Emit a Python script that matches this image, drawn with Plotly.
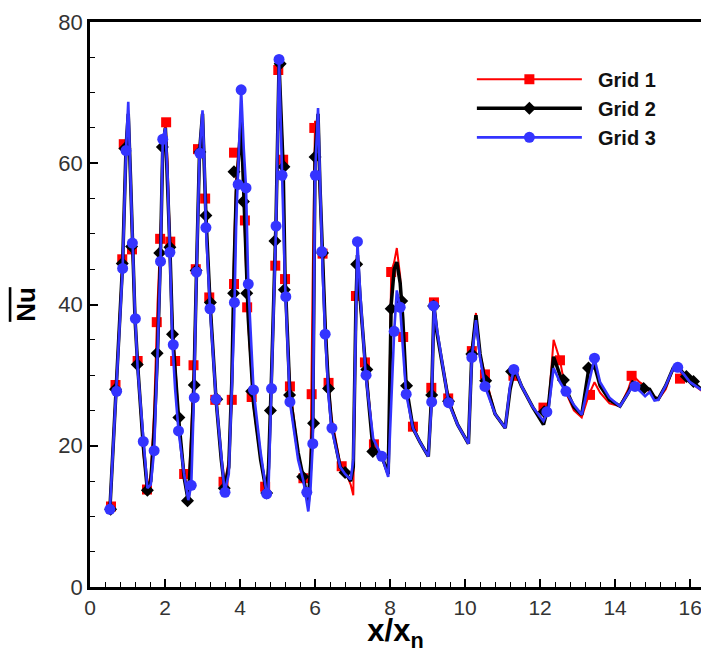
import plotly.graph_objects as go

# ---- curve data (x/x_n and Nu for each grid) ----
x_curve = [0.53, 0.70, 0.87, 0.96, 1.02, 1.08, 1.13, 1.20, 1.27, 1.42, 1.53, 1.62, 1.71, 1.80, 1.88, 1.94,
           2.01, 2.07, 2.13, 2.20, 2.27, 2.36, 2.51, 2.62, 2.70, 2.77, 2.84, 2.92, 3.00, 3.05, 3.09, 3.20,
           3.36, 3.50, 3.59, 3.70, 3.78, 3.84, 3.90, 4.03, 4.10, 4.16, 4.22, 4.36, 4.55, 4.71, 4.76, 4.84,
           4.96, 5.04, 5.10, 5.15, 5.20, 5.33, 5.55, 5.69, 5.82, 5.88, 5.94, 6.00, 6.08, 6.13, 6.20, 6.27,
           6.36, 6.44, 6.67, 6.80, 6.95, 7.02, 7.09, 7.13, 7.20, 7.35, 7.55, 7.78, 7.95, 8.03, 8.11, 8.18,
           8.27, 8.34, 8.43, 8.61, 8.80, 9.02, 9.11, 9.17, 9.25, 9.56, 9.80, 10.09, 10.18, 10.29, 10.40, 10.53,
           10.80, 11.07, 11.20, 11.32, 11.50, 11.80, 12.09, 12.22, 12.36, 12.53, 12.69, 12.90, 13.11, 13.30, 13.45, 13.60,
           13.85, 14.13, 14.35, 14.47, 14.65, 14.80, 14.92, 15.05, 15.15, 15.35, 15.55, 15.67, 15.85, 16.00, 16.30]

nu_grid1 = [11.4, 28.6, 46.4, 62.7, 67.5, 58.0, 47.8, 38.0, 32.0, 19.0, 13.8, 16.0, 25.0, 40.0, 50.0, 60.0,
            66.3, 60.0, 48.9, 37.0, 32.0, 24.0, 16.0, 13.5, 22.0, 31.4, 45.0, 62.0, 67.0, 57.0, 52.0, 41.0,
            26.5, 18.0, 14.5, 18.0, 26.5, 48.0, 58.0, 66.0, 54.0, 45.0, 37.0, 25.5, 18.0, 13.0, 16.0, 29.0,
            50.0, 73.5, 65.0, 60.5, 43.6, 28.4, 19.0, 15.4, 11.5, 18.0, 45.0, 66.0, 64.0, 55.0, 47.2, 38.0,
            28.9, 24.0, 17.5, 16.5, 14.5, 13.0, 41.2, 47.0, 40.0, 31.8, 20.2, 18.5, 15.8, 44.6, 46.0, 48.0,
            44.0, 35.5, 28.0, 22.7, 20.5, 18.5, 28.2, 40.3, 36.0, 26.7, 23.0, 20.3, 33.4, 38.8, 33.0, 30.1,
            24.5, 22.5, 28.0, 30.5, 28.5, 25.5, 23.5, 25.5, 35.0, 32.1, 27.5, 25.0, 24.0, 27.2, 29.0, 27.5,
            26.0, 25.6, 28.0, 30.0, 29.0, 28.5, 27.5, 27.0, 26.5, 28.0, 31.0, 31.2, 29.5, 29.0, 27.8]

nu_grid2 = [11.0, 28.0, 45.8, 62.1, 67.0, 58.0, 48.2, 38.0, 31.5, 20.0, 13.7, 15.0, 22.0, 33.1, 47.3, 62.3,
            65.0, 57.0, 48.1, 35.8, 30.0, 24.0, 15.5, 12.2, 20.0, 28.6, 44.8, 61.6, 67.0, 58.0, 52.6, 40.3,
            26.6, 18.0, 14.0, 17.0, 29.0, 45.0, 56.0, 66.0, 54.6, 45.0, 38.0, 26.0, 18.0, 13.3, 17.0, 30.0,
            52.0, 74.1, 66.0, 59.5, 44.0, 27.2, 19.0, 15.6, 12.0, 17.0, 23.2, 60.9, 67.0, 57.0, 47.3, 37.0,
            28.1, 23.0, 17.0, 16.2, 15.0, 17.0, 40.0, 47.0, 41.0, 30.8, 19.2, 18.5, 16.0, 40.0, 45.0, 46.0,
            43.0, 38.0, 28.5, 22.5, 20.5, 18.5, 27.2, 39.8, 36.0, 26.3, 23.0, 20.3, 33.0, 38.5, 33.0, 29.2,
            24.5, 22.5, 28.0, 30.8, 28.5, 25.5, 23.0, 25.5, 32.6, 30.0, 28.0, 25.5, 24.4, 31.0, 31.4, 28.5,
            26.5, 25.6, 27.5, 29.0, 28.5, 28.1, 28.0, 26.8, 26.6, 28.5, 31.0, 31.3, 30.0, 29.3, 28.0]

nu_grid3 = [11.0, 27.7, 45.1, 61.8, 68.7, 58.0, 48.7, 38.5, 31.0, 20.6, 14.0, 14.5, 19.3, 33.0, 46.1, 63.4,
            65.0, 58.0, 47.4, 34.3, 28.0, 22.1, 16.0, 12.3, 14.4, 26.7, 44.6, 61.4, 67.5, 60.0, 50.9, 39.4,
            26.6, 18.0, 13.4, 16.0, 28.0, 37.0, 52.0, 70.4, 62.0, 56.5, 42.9, 27.9, 19.0, 13.2, 14.0, 28.1,
            51.1, 74.7, 64.0, 52.0, 43.0, 26.2, 18.0, 15.0, 10.7, 14.0, 20.3, 58.3, 67.8, 58.0, 45.0, 35.8,
            27.0, 22.5, 17.0, 16.0, 15.2, 18.0, 40.0, 48.9, 42.0, 30.0, 21.0, 18.5, 15.6, 25.0, 36.2, 42.0,
            39.6, 34.0, 27.3, 22.5, 20.5, 18.5, 26.2, 39.9, 36.5, 26.1, 23.0, 20.3, 32.5, 37.8, 32.5, 28.4,
            24.5, 22.5, 28.5, 31.2, 28.5, 25.5, 23.5, 25.0, 31.0, 29.0, 27.7, 25.8, 24.4, 29.0, 32.4, 29.0,
            26.8, 25.6, 27.5, 28.5, 27.8, 27.0, 27.6, 26.4, 26.5, 28.5, 31.0, 31.1, 30.0, 29.0, 27.9]

# ---- symbol positions for each grid ----
mk1_x = [0.56, 0.68, 0.86, 0.90, 1.12, 1.27, 1.52, 1.78, 1.87, 2.03, 2.14, 2.27, 2.51, 2.76, 2.82, 2.88,
         3.07, 3.18, 3.34, 3.56, 3.78, 3.84, 3.84, 4.13, 4.19, 4.31, 4.67, 4.94, 5.02, 5.15, 5.20, 5.33,
         5.69, 5.91, 5.98, 6.20, 6.36, 6.71, 7.09, 7.33, 7.57, 8.03, 8.35, 8.61, 9.10, 9.17, 9.55, 10.18,
         10.53, 11.29, 12.09, 12.53, 13.33, 14.44, 15.73]
mk1_y = [11.4, 28.6, 46.4, 62.7, 47.8, 32.0, 13.8, 37.5, 49.3, 65.8, 48.9, 32.0, 16.0, 31.4, 45.0, 62.0,
         55.0, 41.0, 26.5, 14.9, 26.5, 42.9, 61.5, 51.9, 39.6, 26.9, 14.2, 45.5, 73.2, 60.5, 43.6, 28.4,
         15.4, 27.3, 65.0, 47.2, 28.9, 17.1, 41.2, 31.8, 20.2, 44.6, 35.4, 22.7, 28.2, 40.3, 26.7, 33.4,
         30.1, 29.9, 25.4, 32.1, 27.2, 29.9, 29.5]

mk2_x = [0.55, 0.68, 0.86, 0.93, 1.11, 1.26, 1.53, 1.79, 1.86, 1.93, 2.13, 2.20, 2.37, 2.60, 2.78, 2.83,
         2.93, 3.09, 3.21, 3.38, 3.58, 3.83, 3.84, 4.09, 4.18, 4.31, 4.71, 4.81, 4.93, 5.07, 5.17, 5.18,
         5.32, 5.67, 5.96, 6.00, 6.20, 6.36, 6.80, 7.11, 7.38, 7.54, 8.03, 8.31, 8.44, 9.11, 9.16, 9.56,
         10.18, 10.55, 11.24, 12.11, 12.62, 13.29, 14.76, 15.90, 16.09]
mk2_y = [11.0, 28.0, 45.8, 62.1, 48.2, 31.5, 13.7, 33.1, 47.3, 62.3, 48.1, 35.8, 24.0, 12.2, 28.6, 44.8,
         61.6, 52.6, 40.3, 26.6, 14.0, 41.6, 58.8, 54.6, 41.6, 27.7, 13.3, 25.0, 49.0, 74.1, 59.5, 42.1,
         27.2, 15.6, 23.2, 60.9, 47.3, 28.1, 16.2, 45.7, 30.8, 19.2, 39.4, 40.5, 28.5, 27.2, 39.8, 26.3,
         33.0, 29.2, 30.5, 24.8, 29.3, 31.0, 28.1, 29.8, 29.1]

mk3_x = [0.53, 0.71, 0.87, 0.96, 1.13, 1.21, 1.42, 1.71, 1.88, 1.94, 2.13, 2.22, 2.36, 2.70, 2.78, 2.84,
         2.93, 3.09, 3.20, 3.36, 3.60, 3.85, 3.95, 4.03, 4.16, 4.22, 4.36, 4.71, 4.84, 4.96, 5.04, 5.12,
         5.22, 5.33, 5.78, 5.94, 6.01, 6.18, 6.27, 6.45, 7.13, 7.36, 7.78, 8.11, 8.27, 8.43, 9.11, 9.16,
         9.56, 10.18, 10.53, 11.30, 12.18, 12.69, 13.45, 14.53, 15.67]
mk3_y = [11.0, 27.7, 45.1, 61.8, 48.7, 38.0, 20.6, 19.3, 46.1, 63.4, 47.4, 34.3, 22.1, 14.4, 26.8, 44.6,
         61.4, 50.9, 39.4, 26.6, 13.4, 40.3, 57.0, 70.4, 56.5, 42.9, 27.9, 13.2, 28.1, 51.1, 74.7, 58.3,
         41.1, 26.2, 13.4, 20.3, 58.3, 47.5, 35.8, 22.5, 48.9, 30.0, 18.5, 36.2, 39.6, 27.3, 26.2, 39.8,
         26.1, 32.5, 28.4, 30.8, 24.8, 27.7, 32.4, 28.4, 31.1]

names = ["Grid 1", "Grid 2", "Grid 3"]
colors = ["#ff0000", "#000000", "#3434ff"]
widths = [2, 3.5, 2.6]
symbols = ["square", "diamond", "circle"]
msizes = [10, 10, 11]

curves = [nu_grid1, nu_grid2, nu_grid3]
marks = [(mk1_x, mk1_y), (mk2_x, mk2_y), (mk3_x, mk3_y)]

fig = go.Figure()
for i in range(3):
    fig.add_trace(go.Scatter(x=x_curve, y=curves[i], mode="lines", showlegend=False,
                             line=dict(color=colors[i], width=widths[i]), hoverinfo="skip"))
    fig.add_trace(go.Scatter(x=marks[i][0], y=marks[i][1], mode="markers", showlegend=False,
                             marker=dict(color=colors[i], symbol=symbols[i], size=msizes[i],
                                         line=dict(width=0))))
for i in range(3):
    fig.add_trace(go.Scatter(x=[None], y=[None], mode="lines+markers",
                             name="\u00a0\u00a0<b>" + names[i] + "</b>",
                             line=dict(color=colors[i], width=widths[i]),
                             marker=dict(color=colors[i], symbol=symbols[i], size=msizes[i])))

fig.update_layout(
    width=701, height=653,
    margin=dict(l=90, r=0, t=22, b=66),
    plot_bgcolor="white", paper_bgcolor="white",
    font=dict(family="Liberation Sans, Arial, sans-serif", color="#333333"),
    legend=dict(x=0.625, y=0.933, xanchor="left", yanchor="top", itemwidth=105,
                bgcolor="rgba(0,0,0,0)", tracegroupgap=0,
                font=dict(size=20, color="#111111", family="Liberation Sans, Arial, sans-serif"),
                traceorder="normal"),
    xaxis=dict(range=[0, 16.29], tickmode="linear", tick0=0, dtick=2,
               ticks="inside", ticklen=8, tickwidth=2, tickcolor="black",
               minor=dict(dtick=0.4, ticks="inside", ticklen=5, tickwidth=1, tickcolor="black"),
               showline=True, linewidth=2.5, linecolor="black", mirror=True,
               showgrid=False, zeroline=False, ticklabeloverflow="allow",
               tickfont=dict(size=21, color="#333333"),
               title=dict(text="<b>x/x<sub>n</sub></b>", font=dict(size=31, color="black"), standoff=12)),
    yaxis=dict(range=[0, 80], tickmode="linear", tick0=0, dtick=20,
               ticks="inside", ticklen=8, tickwidth=2, tickcolor="black",
               minor=dict(dtick=5, ticks="inside", ticklen=5, tickwidth=1, tickcolor="black"),
               showline=True, linewidth=2.5, linecolor="black", mirror=False,
               showgrid=False, zeroline=False,
               tickfont=dict(size=22, color="#333333"),
               title=dict(text='<b><span style="text-decoration:overline">Nu</span></b>',
                          font=dict(size=26, color="black"), standoff=16)),
)

fig.write_html("out.html")
